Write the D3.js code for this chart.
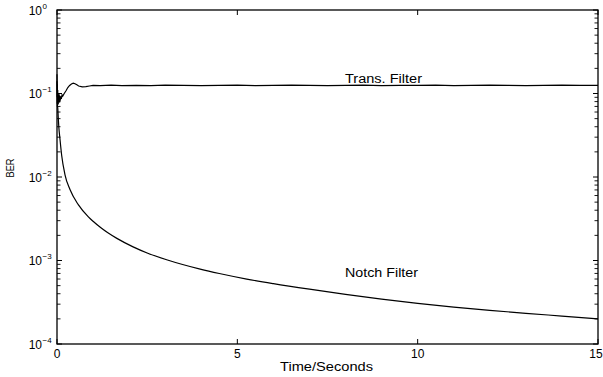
<!DOCTYPE html>
<html><head><meta charset="utf-8">
<script src="https://cdn.jsdelivr.net/npm/d3@7"></script>
<style>body{margin:0;background:#fff}svg{display:block}text{font-family:"Liberation Sans",Arial,sans-serif;fill:#000}</style>
</head><body>
<svg id="c" width="603" height="377"></svg>
<script>
// Data
const transT = [0,0.005,0.01,0.015,0.02,0.025,0.03,0.035,0.04,0.05,0.06,0.07,0.08,0.09,0.10,0.12,0.14,0.16,0.2,0.25,0.3,0.35,0.4,0.45,0.5,0.55,0.6,0.7,0.8,0.9,1.0,1.2,1.5,1.8,2.2,2.6,3.0,3.5,4,4.5,5,5.5,6,6.5,7,7.5,8,8.5,9,9.5,10,10.5,11,11.5,12,12.5,13,13.5,14,14.5,15];
const transV = [0.17,0.09,0.13,0.075,0.11,0.08,0.1,0.074,0.095,0.08,0.098,0.078,0.094,0.082,0.092,0.086,0.096,0.093,0.1,0.108,0.118,0.125,0.13,0.133,0.131,0.127,0.123,0.12,0.121,0.123,0.125,0.124,0.126,0.124,0.125,0.124,0.126,0.125,0.124,0.125,0.126,0.124,0.125,0.126,0.125,0.124,0.125,0.126,0.124,0.125,0.125,0.126,0.124,0.125,0.126,0.125,0.124,0.125,0.126,0.125,0.125];
const notchT = [0,0.004,0.008,0.012,0.02,0.036,0.05,0.083,0.13,0.22,0.36,0.59,0.87,1.0,1.2,1.4,1.66,2.11,2.5,3.04,3.97,4.5,5.26,6,7,8,9,10,11,12,13,14,15];
const notchV = [0.14,0.075,0.11,0.07,0.068,0.05,0.04,0.0283,0.0181,0.0107,7.08e-3,4.66e-3,3.33e-3,2.95e-3,2.5e-3,2.16e-3,1.84e-3,1.455e-3,1.23e-3,1.02e-3,7.88e-4,6.98e-4,5.99e-4,5.28e-4,4.53e-4,3.93e-4,3.44e-4,3.06e-4,2.77e-4,2.53e-4,2.33e-4,2.16e-4,2.0e-4];
const xTicks = [0,5,10,15];
const yTicks = [1,0.1,0.01,0.001,0.0001];
const yExps = ["0","\u22121","\u22122","\u22123","\u22124"];
const xLabel = "Time/Seconds", yLabel = "BER";
const curveLabels = ["Trans. Filter", "Notch Filter"];

const svg = d3.select("#c");
const L=57, R=598, T=10, B=344;
const x = d3.scaleLinear().domain([0,15]).range([L,R]);
const y = d3.scaleLog().domain([1e-4,1]).range([B,T]);

const minor = [];
for (let e=-4;e<0;e++) for (let k=2;k<=9;k++) minor.push(k*Math.pow(10,e));

const g = svg.append("g");
g.append("rect").attr("x",L).attr("y",T).attr("width",R-L).attr("height",B-T)
 .attr("fill","none").attr("stroke","#000").attr("stroke-width",1.3);

yTicks.forEach(v=>{
  g.append("line").attr("x1",L).attr("x2",L+5).attr("y1",y(v)).attr("y2",y(v)).attr("stroke","#000");
  g.append("line").attr("x1",R).attr("x2",R-5).attr("y1",y(v)).attr("y2",y(v)).attr("stroke","#000");
});
minor.forEach(v=>{
  g.append("line").attr("x1",L).attr("x2",L+3.5).attr("y1",y(v)).attr("y2",y(v)).attr("stroke","#000").attr("stroke-width",0.9);
  g.append("line").attr("x1",R).attr("x2",R-3.5).attr("y1",y(v)).attr("y2",y(v)).attr("stroke","#000").attr("stroke-width",0.9);
});
xTicks.forEach(v=>{
  g.append("line").attr("x1",x(v)).attr("x2",x(v)).attr("y1",B).attr("y2",B-5).attr("stroke","#000");
  g.append("line").attr("x1",x(v)).attr("x2",x(v)).attr("y1",T).attr("y2",T+5).attr("stroke","#000");
});

yTicks.forEach((v,i)=>{
  g.append("text").attr("x",42).attr("y",y(v)+4.5).attr("text-anchor","end").attr("font-size",12).text("10");
  g.append("text").attr("x",42.5).attr("y",y(v)-1.5).attr("font-size",8).text(yExps[i]);
});
xTicks.forEach(v=>{
  g.append("text").attr("x",Math.min(x(v),596)).attr("y",357.5).attr("text-anchor","middle").attr("font-size",12).text(v);
});
g.append("text").attr("x",280).attr("y",371).attr("font-size",12.5)
 .attr("textLength",93).attr("lengthAdjust","spacingAndGlyphs").text(xLabel);
g.append("text").attr("transform","translate(14,168) rotate(-90)").attr("text-anchor","middle").attr("font-size",11)
 .attr("textLength",19).attr("lengthAdjust","spacingAndGlyphs").text(yLabel);

const trans = transT.map((t,i)=>[t,transV[i]]);
const notch = notchT.map((t,i)=>[t,notchV[i]]);
g.append("path").attr("d",d3.line().x(d=>x(d[0])).y(d=>y(d[1])).curve(d3.curveLinear)(trans))
 .attr("fill","none").attr("stroke","#000").attr("stroke-width",1.2);
g.append("path").attr("d",d3.line().x(d=>x(d[0])).y(d=>y(d[1])).curve(d3.curveMonotoneX)(notch))
 .attr("fill","none").attr("stroke","#000").attr("stroke-width",1.2);

g.append("text").attr("x",345).attr("y",83).attr("font-size",12.5)
 .attr("textLength",77).attr("lengthAdjust","spacingAndGlyphs").text(curveLabels[0]);
g.append("text").attr("x",345).attr("y",277).attr("font-size",12)
 .attr("textLength",73).attr("lengthAdjust","spacingAndGlyphs").text(curveLabels[1]);
</script>
</body></html>
